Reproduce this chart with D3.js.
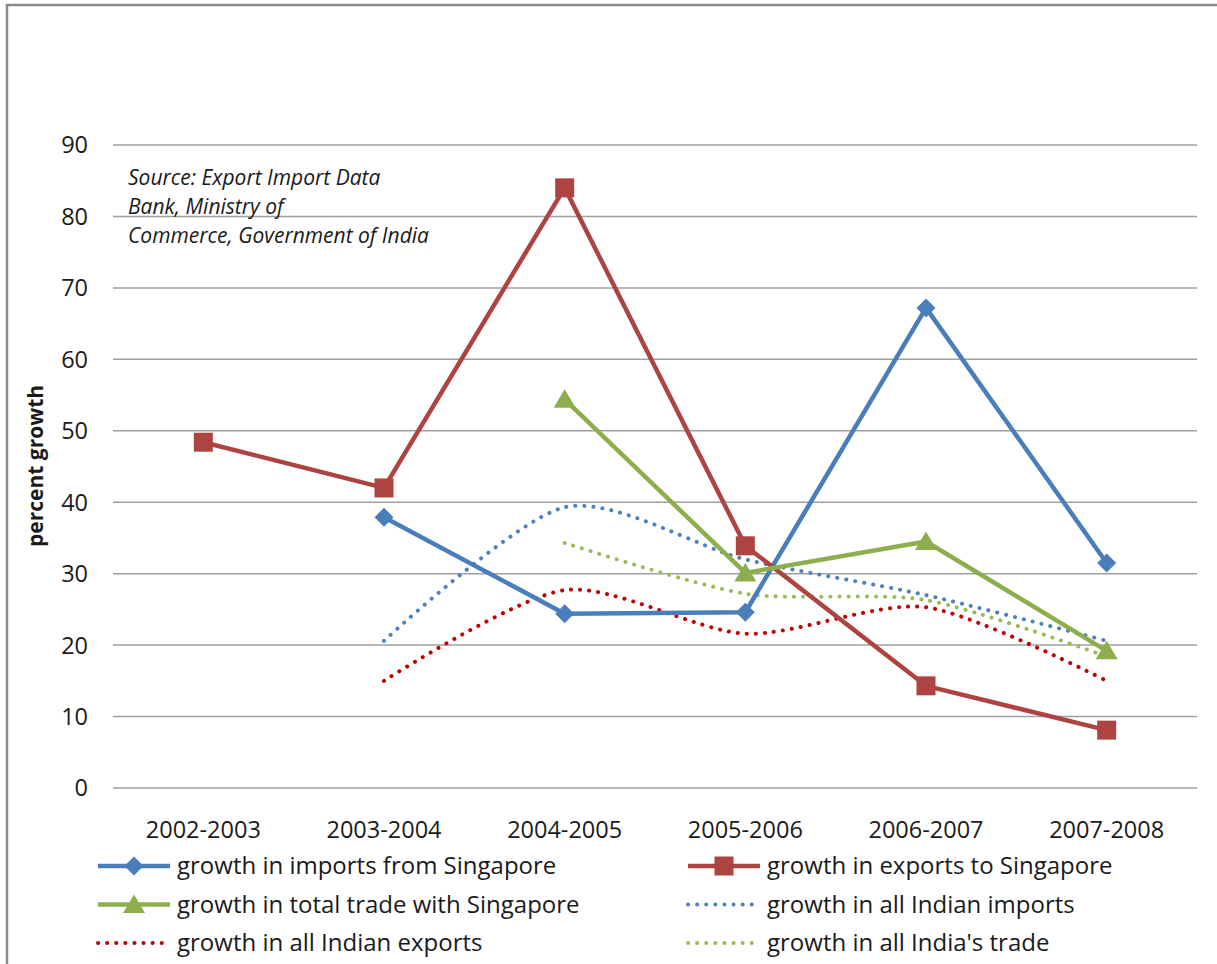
<!DOCTYPE html>
<html lang="en">
<head>
<meta charset="utf-8">
<title>India - Singapore trade growth</title>
<script src="https://d3js.org/d3.v7.min.js"></script>
<style>
  body { margin: 0; background: #fff; }
  text { font-family: "Open Sans", "Liberation Sans", sans-serif; fill: #1a1a1a; }
</style>
</head>
<body>
<script>
// categories and series (percent growth), null = no value
var years = ["2002-2003", "2003-2004", "2004-2005", "2005-2006", "2006-2007", "2007-2008"];
var importsFromSingapore = [null, 37.9, 24.4, 24.6, 67.2, 31.5];
var exportsToSingapore   = [48.4, 42.0, 84.0, 33.9, 14.3, 8.1];
var totalTradeSingapore  = [null, null, 54.4, 30.1, 34.5, 19.2];
var allIndianImports     = [null, 20.6, 39.3, 32.0, 27.0, 20.6];
var allIndianExports     = [null, 15.0, 27.7, 21.6, 25.3, 15.0];
var allIndiaTrade        = [null, null, 34.3, 27.2, 26.3, 18.4];
var yTicks = [0, 10, 20, 30, 40, 50, 60, 70, 80, 90];
var sourceLines = ["Source: Export Import Data", "Bank, Ministry of", "Commerce, Government of India"];

var series = [
  {name: "growth in imports from Singapore", values: importsFromSingapore, color: "#4A7EBB", marker: "diamond", dotted: false},
  {name: "growth in exports to Singapore", values: exportsToSingapore, color: "#AD4441", marker: "square", dotted: false},
  {name: "growth in total trade with Singapore", values: totalTradeSingapore, color: "#8DAE4C", marker: "triangle", dotted: false},
  {name: "growth in all Indian imports", values: allIndianImports, color: "#4F81BD", marker: null, dotted: true},
  {name: "growth in all Indian exports", values: allIndianExports, color: "#C00000", marker: null, dotted: true},
  {name: "growth in all India's trade", values: allIndiaTrade, color: "#9BBB59", marker: null, dotted: true}
];

var width = 1217, height = 964;
var svg = d3.select("body").append("svg")
    .attr("width", width)
    .attr("height", height);

// chart frame (cut at the right and bottom edges)
svg.append("rect")
   .attr("x", 7).attr("y", 5)
   .attr("width", 1300).attr("height", 1100)
   .style("fill", "none")
   .style("stroke", "#8a8a8a")
   .style("stroke-width", 2.5);

var x = d3.scalePoint().domain(years).range([113, 1197]).padding(0.5);
var y = d3.scaleLinear().domain([0, 90]).range([788, 145]);

// gridlines
svg.append("g").selectAll("line")
   .data(yTicks)
   .enter().append("line")
   .attr("x1", 113).attr("x2", 1197)
   .attr("y1", function(d) { return y(d); })
   .attr("y2", function(d) { return y(d); })
   .style("stroke", "#a0a0a0")
   .style("stroke-width", 1.5);

// y axis labels
svg.append("g").selectAll("text")
   .data(yTicks)
   .enter().append("text")
   .attr("x", 88)
   .attr("y", function(d) { return y(d); })
   .attr("dy", "0.36em")
   .attr("text-anchor", "end")
   .style("font-size", "23.5px")
   .text(function(d) { return d; });

// x axis labels
svg.append("g").selectAll("text")
   .data(years)
   .enter().append("text")
   .attr("x", function(d) { return x(d); })
   .attr("y", 838)
   .attr("text-anchor", "middle")
   .style("font-size", "23.5px")
   .text(function(d) { return d; });

// y axis title
svg.append("text")
   .attr("transform", "translate(43,466) rotate(-90)")
   .attr("text-anchor", "middle")
   .style("font-size", "21px")
   .style("font-weight", "bold")
   .text("percent growth");

// source note
svg.append("g").selectAll("text")
   .data(sourceLines)
   .enter().append("text")
   .attr("x", 128)
   .attr("y", function(d, i) { return 185 + i * 29; })
   .style("font-size", "21px")
   .style("font-style", "italic")
   .text(function(d) { return d; });

var straight = d3.line()
    .defined(function(d) { return d.v !== null; })
    .x(function(d) { return x(d.year); })
    .y(function(d) { return y(d.v); });

var smooth = d3.line()
    .defined(function(d) { return d.v !== null; })
    .curve(d3.curveCardinal.tension(0.2))
    .x(function(d) { return x(d.year); })
    .y(function(d) { return y(d.v); });

function points(s) {
  return s.values.map(function(v, i) { return {year: years[i], v: v}; });
}

function markerPath(type) {
  if (type === "diamond") return "M0,-9.5L9.5,0L0,9.5L-9.5,0Z";
  if (type === "square") return "M-9.5,-9.5H9.5V9.5H-9.5Z";
  if (type === "triangle") return "M0,-10L11,8.5H-11Z";
  return null;
}

// draw dotted lines first, then solid ones with markers
var order = [3, 4, 5, 0, 1, 2];
order.forEach(function(k) {
  var s = series[k];
  var pts = points(s).filter(function(d) { return d.v !== null; });
  svg.append("path")
     .datum(pts)
     .attr("d", s.dotted ? smooth : straight)
     .style("fill", "none")
     .style("stroke", s.color)
     .style("stroke-width", s.dotted ? 4 : 4.5)
     .style("stroke-linecap", s.dotted ? "round" : "butt")
     .style("stroke-linejoin", "round")
     .style("stroke-dasharray", s.dotted ? "0.1 9" : null);
  if (s.marker) {
    svg.append("g").selectAll("path")
       .data(pts)
       .enter().append("path")
       .attr("transform", function(d) { return "translate(" + x(d.year) + "," + y(d.v) + ")"; })
       .attr("d", markerPath(s.marker))
       .style("fill", s.color);
  }
});

// legend, two columns
var legend = svg.append("g");
series.forEach(function(s, i) {
  var col = i % 2, row = Math.floor(i / 2);
  var lx = col === 0 ? 98 : 688;
  var ly = 866 + row * 38.5;
  var g = legend.append("g").attr("transform", "translate(" + lx + "," + ly + ")");
  g.append("line")
   .attr("x1", 0).attr("x2", 72)
   .attr("y1", 0).attr("y2", 0)
   .style("stroke", s.color)
   .style("stroke-width", s.dotted ? 4 : 4.5)
   .style("stroke-linecap", s.dotted ? "round" : "butt")
   .style("stroke-dasharray", s.dotted ? "0.1 9" : null);
  if (s.marker) {
    g.append("path")
     .attr("transform", "translate(36,0)")
     .attr("d", markerPath(s.marker))
     .style("fill", s.color);
  }
  g.append("text")
   .attr("x", 79)
   .attr("y", 0)
   .attr("dy", "0.35em")
   .style("font-size", "24px")
   .text(s.name);
});
</script>
</body>
</html>
